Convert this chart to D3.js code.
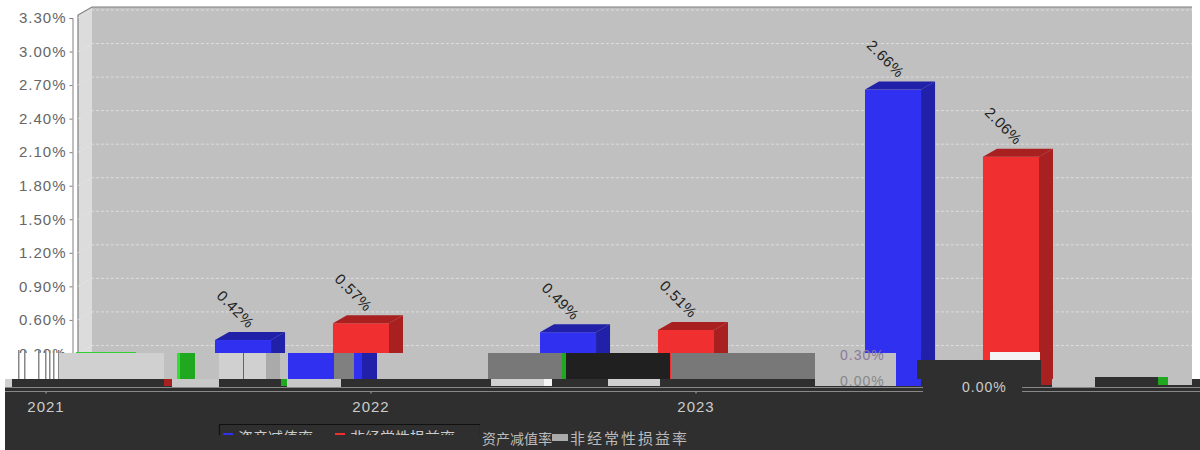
<!DOCTYPE html>
<html>
<head>
<meta charset="utf-8">
<script src="https://cdnjs.cloudflare.com/ajax/libs/d3/7.8.5/d3.min.js"></script>
<style>
html, body { margin: 0; padding: 0; background: #fff; }
svg { display: block; }
text { font-family: "Liberation Sans", Arial, sans-serif; }
</style>
</head>
<body>
<svg id="chart" width="1200" height="450"></svg>
<script>
// data
var years = ["2021", "2022", "2023"];
var seriesNames = ["资产减值率", "非经常性损益率"];
var impairment = [0.42, 0.49, 2.66];
var nonRecurring = [0.57, 0.51, 2.06];
var yTicks = [0, 0.3, 0.6, 0.9, 1.2, 1.5, 1.8, 2.1, 2.4, 2.7, 3.0, 3.3];

var svg = d3.select("#chart");

// 3d depth of the plot
var dx = 14, dy = 8;
var plotLeft = 78, plotRight = 1178, plotTop = 15, plotFloor = 387;

var y = d3.scaleLinear().domain([0, 3.3]).range([plotFloor, 18]);
var x0 = d3.scaleBand().domain(years).range([139.5, 1114.5]);
var groupStart = (x0.bandwidth() - 174) / 2;
var x1 = d3.scaleBand().domain([0, 1]).range([groupStart, groupStart + 174]).paddingInner(0.525);

var pct = function (d) { return d.toFixed(2) + "%"; };
var blue = { front: "#3030f0", dark: "#2020a8" };
var red = { front: "#f03030", dark: "#a82020" };

// walls
svg.append("rect").attr("x", plotLeft + dx).attr("y", plotTop - dy)
  .attr("width", plotRight - plotLeft).attr("height", plotFloor - plotTop).attr("fill", "#c0c0c0");
svg.append("polygon")
  .attr("points", [[plotLeft, plotTop], [plotLeft + dx, plotTop - dy], [plotLeft + dx, plotFloor - dy], [plotLeft, plotFloor]].join(" "))
  .attr("fill", "#dcdcdc");
svg.append("path")
  .attr("d", "M" + plotLeft + "," + plotFloor + "V" + plotTop + "L" + (plotLeft + dx) + "," + (plotTop - dy) + "H" + (plotRight + dx))
  .attr("fill", "none").attr("stroke", "#808080").attr("stroke-width", 1.2);

// grid
svg.append("g").selectAll("path").data(yTicks.slice(1)).enter().append("path")
  .attr("d", function (d) {
    return "M" + plotLeft + "," + y(d) + "L" + (plotLeft + dx) + "," + (y(d) - dy) + "H" + (plotRight + dx);
  })
  .attr("fill", "none").attr("stroke", "#e4e4e4").attr("stroke-width", 0.8).attr("stroke-dasharray", "3,2");

// y axis
var yAxis = svg.append("g").attr("transform", "translate(72.5,0)")
  .call(d3.axisLeft(y).tickValues(yTicks).tickFormat(pct).tickSize(3));
yAxis.select(".domain").attr("stroke", "#808080");
yAxis.selectAll(".tick line").attr("stroke", "#808080");
yAxis.selectAll("text").attr("font-size", 15).attr("fill", "#666").attr("letter-spacing", 1)
  .style("font-family", '"Liberation Sans", Arial, sans-serif').attr("x", -6);

// bars
function drawSeries(values, idx, col) {
  var g = svg.append("g").selectAll("g").data(values).enter().append("g")
    .attr("transform", function (d, i) { return "translate(" + (x0(years[i]) + x1(idx)) + ",0)"; });
  var w = x1.bandwidth();
  g.append("rect").attr("y", function (d) { return y(d); }).attr("width", w)
    .attr("height", function (d) { return plotFloor - y(d); }).attr("fill", col.front);
  g.append("polygon").attr("fill", col.dark).attr("points", function (d) {
    return [[0, y(d)], [dx, y(d) - dy], [w + dx, y(d) - dy], [w, y(d)]].join(" ");
  });
  g.append("polygon").attr("fill", col.dark).attr("points", function (d) {
    return [[w, y(d)], [w + dx, y(d) - dy], [w + dx, plotFloor - dy], [w, plotFloor]].join(" ");
  });
  g.append("text")
    .attr("transform", function (d) { return "translate(" + (w / 2 + 5) + "," + (y(d) - 11) + ") rotate(45)"; })
    .attr("text-anchor", "end").attr("font-size", 15).attr("letter-spacing", 0.6).attr("fill", "#222")
    .text(pct);
}
drawSeries(impairment, 0, blue);
drawSeries(nonRecurring, 1, red);

// ---- the damaged rows at the bottom of the picture ----
function block(bx, by, bw, bh, c) {
  svg.append("rect").attr("x", bx).attr("y", by).attr("width", bw).attr("height", bh).attr("fill", c);
}
var dark = "#2f2f2f", light = "#d0d0d0", grey = "#787878";

block(0, 353, 59, 34, "#fff");
// smeared remains of the 0.30% label
[18, 24, 38, 45, 49, 53, 58].forEach(function (sx) { block(sx, 350, 1.5, 29, "#888"); });

// row 353-379
block(59, 353, 105, 26, light);
block(76, 352, 60, 1, "#30d030");
block(164, 353, 13, 26, "#c0c0c0");
block(177, 353, 3, 26, "#30e030");
block(180, 353, 15, 26, "#20a820");
block(195, 353, 93, 26, "#c0c0c0");
block(219, 353, 24, 26, light);
block(243, 353, 1, 26, "#4060e0");
block(244, 353, 22, 26, light);
block(266, 353, 14, 26, "#aaa");
block(288, 353, 46, 26, "#3030f0");
block(334, 353, 20, 26, "#808080");
block(354, 353, 8, 26, "#3030f0");
block(362, 353, 15, 26, "#2020a8");
block(377, 353, 111, 26, "#c0c0c0");
block(488, 353, 74, 26, grey);
block(562, 353, 4, 26, "#20a820");
block(566, 353, 104, 26, "#202020");
block(671, 353, 144, 26, grey);
block(815, 353, 81, 33, "#c0c0c0");
block(896, 353, 25, 33, "#3030f0");
block(921, 353, 14, 7, "#2020a8");
block(990, 352, 50, 8, "#f4f4f4");

// row 379-387
block(5, 379, 1195, 8, dark);
block(5, 379, 7, 8, light);
block(164, 379, 8, 7, "#a82020");
block(172, 379, 47, 8, "#c8c8c8");
block(281, 379, 6, 7, "#20a820");
block(287, 379, 54, 8, "#c8c8c8");
block(491, 379, 53, 7, light);
block(544, 379, 8, 7, "#f4f4f4");
block(608, 379, 52, 7, light);
block(815, 379, 81, 7, "#c0c0c0");
block(896, 379, 25, 7, "#3030f0");
block(1041, 379, 11, 6, "#a82020");
block(1052, 379, 43, 8, "#c0c0c0");
block(1168, 379, 24, 6, "#c0c0c0");
block(1095, 377, 63, 8, dark);
block(1158, 377, 10, 8, "#20a820");
block(917, 360, 124, 19, dark);
block(0, 353, 5, 97, "#fff");

// footer
block(5, 387, 1195, 63, dark);
block(5, 387, 918, 1, "#888");
block(1022, 387, 178, 1, "#888");

// category axis, shifted left along with its rows
var xAxis = svg.append("g").attr("transform", "translate(-256,391.5)")
  .call(d3.axisBottom(x0).tickSize(2));
xAxis.select(".domain").remove();
xAxis.selectAll(".tick line").attr("stroke", "#aaa");
xAxis.selectAll("text").attr("font-size", 15).attr("fill", "#ccc").attr("y", 10).attr("letter-spacing", 1)
  .style("font-family", '"Liberation Sans", Arial, sans-serif');
block(5, 391, 918, 1, "#888");
block(1022, 391, 178, 1, "#888");

// stray copies of the axis labels
[[840, 360, "0.30%", "#8a7a9a"], [840, 386, "0.00%", "#888"], [962, 392, "0.00%", "#ccc"]].forEach(function (t) {
  svg.append("text").attr("x", t[0]).attr("y", t[1]).attr("font-size", 14).attr("letter-spacing", 1)
    .attr("fill", t[3]).text(t[2]);
});

// legend, only its top rows survive
var clip = svg.append("clipPath").attr("id", "legendClip");
clip.append("rect").attr("x", 215).attr("y", 420).attr("width", 265).attr("height", 15);
var legend = svg.append("g").attr("clip-path", "url(#legendClip)");
legend.append("path").attr("d", "M219.5,440V424.5H480.5V440").attr("fill", "none").attr("stroke", "#111").attr("stroke-width", 1.2);
legend.append("line").attr("x1", 223).attr("x2", 233).attr("y1", 434).attr("y2", 434).attr("stroke", blue.front).attr("stroke-width", 2);
legend.append("line").attr("x1", 335).attr("x2", 345).attr("y1", 434).attr("y2", 434).attr("stroke", red.front).attr("stroke-width", 2);
legend.append("text").attr("x", 238).attr("y", 443).attr("font-size", 15).attr("fill", "#ccc")
  .style("font-family", '"Noto Sans CJK SC"').text(seriesNames[0]);
legend.append("text").attr("x", 350).attr("y", 443).attr("font-size", 15).attr("fill", "#ccc")
  .style("font-family", '"Noto Sans CJK SC"').text(seriesNames[1]);

// the rest of the legend row, sheared to the right
svg.append("text").attr("x", 482).attr("y", 444).attr("font-size", 14).attr("fill", "#bbb").attr("letter-spacing", 0)
  .style("font-family", '"Noto Sans CJK SC"').text(seriesNames[0]);
block(552, 434, 16, 7, "#aaa");
svg.append("text").attr("x", 570).attr("y", 444).attr("font-size", 15).attr("fill", "#bbb").attr("letter-spacing", 2)
  .style("font-family", '"Noto Sans CJK SC"').text(seriesNames[1]);
</script>
</body>
</html>
